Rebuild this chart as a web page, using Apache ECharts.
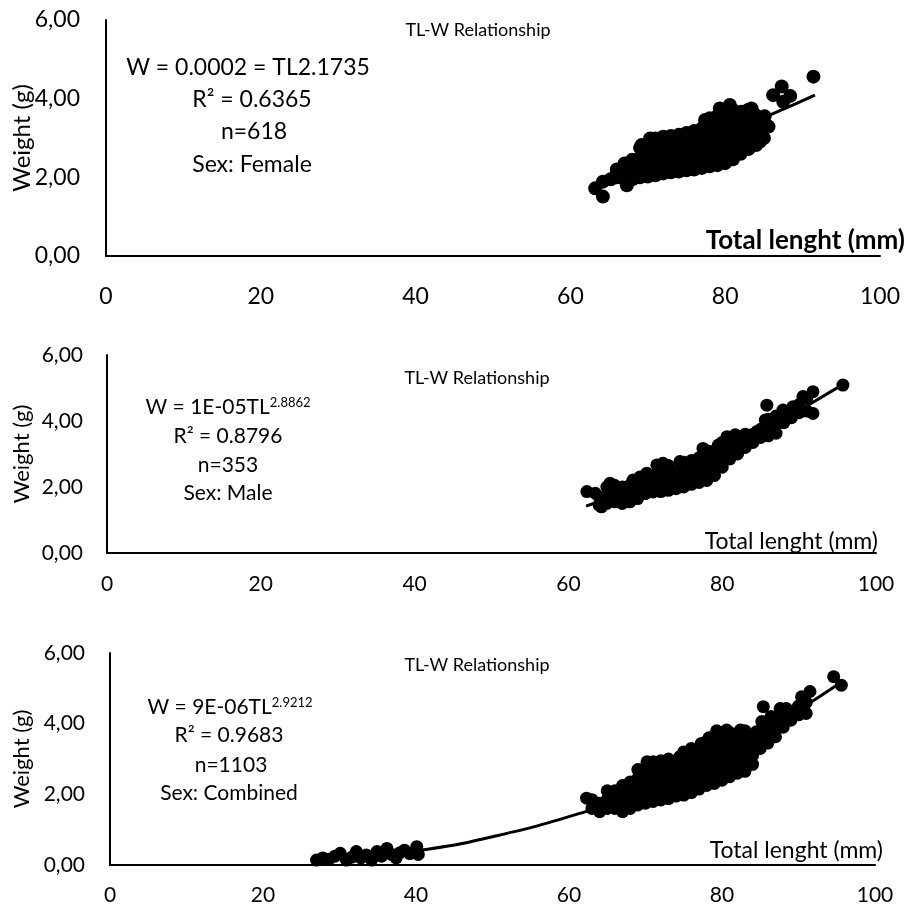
<!DOCTYPE html>
<html>
<head>
<meta charset="utf-8">
<script src="https://cdn.jsdelivr.net/npm/echarts@6/dist/echarts.min.js"></script>
<style>
html,body{margin:0;padding:0;background:#fff;}
#chart{width:909px;height:910px;}
</style>
</head>
<body>
<div id="chart"></div>
<script>
// ---- Data ----
var xTicks = [0, 20, 40, 60, 80, 100];
var yTicks = [0, 2, 4, 6];

var femalePoints = [
[63.2,1.72],[64.2,1.89],[64.2,1.51],[65.2,1.95],[65.9,2.06],[66.9,2.27],[67.3,1.80],
[66,2.0],[66,2.2],
[67,1.95],[67,2.2],[67,2.35],
[68,1.95],[68,2.2],[68,2.45],
[69,2.0],[69,2.25],[69,2.5],[69,2.75],[69.2,2.82],
[70,2.02],[70,2.27],[70,2.52],[70,2.77],[70.3,2.99],
[71,2.05],[71,2.3],[71,2.55],[71,2.8],[71,2.99],
[72,2.1],[72,2.35],[72,2.6],[72,2.85],[72,3.03],
[73,2.13],[73,2.38],[73,2.63],[73,2.88],[73,3.05],
[74,2.15],[74,2.4],[74,2.65],[74,2.9],[74,3.08],
[75,2.18],[75,2.43],[75,2.68],[75,2.93],[75,3.13],
[76,2.2],[76,2.45],[76,2.7],[76,2.95],[76,3.18],
[77,2.24],[77,2.49],[77,2.74],[77,2.99],[77,3.24],[77.4,3.46],
[78,2.28],[78,2.53],[78,2.78],[78,3.03],[78,3.28],[78,3.5],
[79,2.31],[79,2.56],[79,2.81],[79,3.06],[79,3.31],[79,3.56],[79.3,3.75],
[80,2.36],[80,2.61],[80,2.86],[80,3.11],[80,3.36],[80,3.61],[80.6,3.84],
[81,2.46],[81,2.71],[81,2.96],[81,3.21],[81,3.46],[81,3.71],
[82,2.6],[82,2.85],[82,3.1],[82,3.35],[82,3.6],[82.1,3.67],
[83,2.72],[83,2.97],[83,3.22],[83,3.47],[83,3.72],[83.4,3.75],
[84,2.82],[84,3.07],[84,3.32],[84,3.57],[84.5,2.91],
[85,3.0],[85,3.25],[85.1,3.55],[85.6,3.29],
[86.2,4.09],[87.3,4.31],[87.5,3.92],[88.4,4.07],[91.4,4.56]
];
var femaleTrend = [[63.2,1.80],[66,2.03],[70,2.35],[75,2.74],[80,3.14],[85.8,3.59],[91.6,4.09]];

var malePoints = [
[62.4,1.86],[63.5,1.81],[64.3,1.40],[65.4,2.11],
[64,1.45],[64,1.7],
[65,1.5],[65,1.75],[65,2.0],
[66,1.55],[66,1.8],[66,2.05],
[67,1.5],[67,1.75],[67,2.0],
[68,1.55],[68,1.8],[68,2.05],[68.4,2.21],
[69,1.65],[69,1.9],[69,2.15],[69.3,2.3],
[70,1.8],[70,2.05],[70,2.3],[70.2,2.42],
[71,1.85],[71,2.1],[71,2.35],[71.5,2.67],
[72,1.86],[72,2.1],[72,2.35],[72,2.6],[72.3,2.72],
[73,1.9],[73,2.15],[73,2.4],[73,2.65],
[74,1.95],[74,2.2],[74,2.45],[74.5,2.77],
[75,2.0],[75,2.25],[75,2.5],[75,2.75],
[76,2.08],[76,2.33],[76,2.58],[76,2.8],
[77,2.14],[77,2.39],[77,2.64],[77,2.89],[77.5,3.17],
[78,2.2],[78,2.45],[78,2.7],[78,2.95],[78,3.1],
[79,2.35],[79,2.6],[79,2.85],[79,3.1],[79.5,3.27],
[80,2.6],[80,2.85],[80,3.1],[80,3.35],[80.6,3.52],
[81,2.85],[81,3.1],[81,3.35],[81.7,3.58],
[82,3.0],[82,3.25],[82,3.5],
[83,3.2],[83,3.45],[83,3.6],
[84,3.35],[84,3.6],[84.5,3.68],
[85,3.5],[85,3.75],[85.6,4.03],[85.8,4.48],
[86,3.55],[86,3.8],[86,4.05],
[87,3.63],[87,3.9],[87,4.15],
[88,3.95],[88,4.2],[87.9,4.33],
[89,4.1],[89,4.35],[89.2,4.43],
[90,4.25],[90,4.5],[90.5,4.74],
[91,4.3],[91,4.7],[91.8,4.89],[91.8,4.23],
[95.7,5.09]
];
var maleTrend = [[62.3,1.42],[66,1.72],[70,2.03],[75,2.48],[80,3.02],[85,3.62],[90,4.32],[95.5,5.08]];

var combinedPoints = [
[27.0,0.14],[27.8,0.2],[28.6,0.16],[29.4,0.25],[30.1,0.33],[30.9,0.14],[31.6,0.22],[32.2,0.38],
[32.8,0.2],[33.5,0.28],[34.2,0.14],[34.9,0.38],[35.5,0.25],[36.2,0.47],[36.8,0.3],[37.4,0.2],
[37.9,0.35],[38.5,0.42],[39.2,0.32],[40.1,0.52],[40.3,0.3],
[62.3,1.89],
[63,1.6],[63,1.85],
[64,1.51],[64,1.75],
[65,1.6],[65,1.85],[65,2.1],
[66,1.6],[66,1.85],[66,2.1],
[67,1.51],[67,1.76],[67,2.01],[67,2.25],
[68,1.6],[68,1.85],[68,2.1],[68,2.35],
[69,1.7],[69,1.95],[69,2.2],[69,2.45],[69,2.7],
[70,1.75],[70,2.0],[70,2.25],[70,2.5],[70,2.75],[70.2,2.92],
[71,1.8],[71,2.05],[71,2.3],[71,2.55],[71,2.8],[71,2.92],
[72,1.84],[72,2.09],[72,2.34],[72,2.59],[72,2.84],[72,2.95],
[73,1.88],[73,2.13],[73,2.38],[73,2.63],[73,2.88],[73,3.0],
[74,1.95],[74,2.2],[74,2.45],[74,2.7],[74,2.95],[74.5,3.07],
[75,1.98],[75,2.23],[75,2.48],[75,2.73],[75,2.98],[75,3.2],
[76,2.05],[76,2.3],[76,2.55],[76,2.8],[76,3.05],[76,3.3],
[77,2.15],[77,2.4],[77,2.65],[77,2.9],[77,3.15],[77.3,3.44],
[78,2.25],[78,2.5],[78,2.75],[78,3.0],[78,3.25],[78,3.5],[78.3,3.6],
[79,2.31],[79,2.56],[79,2.81],[79,3.06],[79,3.31],[79,3.56],[79.3,3.8],
[80,2.4],[80,2.65],[80,2.9],[80,3.15],[80,3.4],[80,3.65],[80.6,3.82],
[81,2.5],[81,2.75],[81,3.0],[81,3.25],[81,3.5],[81,3.75],
[82,2.6],[82,2.85],[82,3.1],[82,3.35],[82,3.6],[82.4,3.82],
[83,2.65],[83,2.9],[83,3.15],[83,3.4],[83,3.65],[83,3.8],
[84,2.85],[84,3.1],[84,3.35],[84,3.6],[84.5,3.77],
[85,3.3],[85,3.55],[85,3.8],[85.2,4.06],[85.4,4.48],
[86,3.45],[86,3.7],[86,3.95],[86.4,4.2],
[87,3.63],[87,3.88],[87,4.13],[87.6,4.43],
[88,3.9],[88,4.15],[88.4,4.43],
[89,4.1],[89,4.35],
[90,4.25],[90,4.5],[90.4,4.76],
[91,4.29],[91,4.6],[91.5,4.91],
[94.6,5.33],[95.6,5.09]
];
var combinedTrend = [[27,0.13],[33,0.24],[41,0.43],[50,0.80],[61.4,1.46],[70,2.12],[80,3.12],[88,4.12],[95,5.09]];

var panelTitle = 'TL-W Relationship';
var xName = 'Total lenght (mm)';
var yName = 'Weight (g)';
var femaleText = ['W = 0.0002 = TL2.1735', 'R² = 0.6365', 'n=618', 'Sex: Female'];
var maleText = ['W = 1E-05TL{sup|2.8862}', 'R² = 0.8796', 'n=353', 'Sex: Male'];
var combinedText = ['W = 9E-06TL{sup|2.9212}', 'R² = 0.9683', 'n=1103', 'Sex: Combined'];

// ---- Chart ----
var FONT = 'Lato';
var chart = echarts.init(document.getElementById('chart'), null, {renderer: 'canvas'});

var grids = [
  {left: 106, top: 20, width: 774, height: 236},
  {left: 107, top: 355, width: 769, height: 198},
  {left: 110, top: 653, width: 765, height: 212}
];
var tickSize = [23, 21, 21];
var xMargin = [29, 21, 20];
var yMargin = [26, 24, 25];

function xAxisFor(i) {
  return {
    type: 'value', gridIndex: i, min: xTicks[0], max: xTicks[xTicks.length - 1], interval: xTicks[1] - xTicks[0],
    axisLine: {show: true, onZero: false, lineStyle: {color: '#000', width: 2}},
    axisTick: {show: false}, splitLine: {show: false},
    axisLabel: {fontFamily: FONT, fontSize: tickSize[i], color: '#000', margin: xMargin[i]}
  };
}
function yAxisFor(i) {
  return {
    type: 'value', gridIndex: i, min: yTicks[0], max: yTicks[yTicks.length - 1], interval: yTicks[1] - yTicks[0],
    axisLine: {show: true, onZero: false, lineStyle: {color: '#000', width: 2}},
    axisTick: {show: false}, splitLine: {show: false},
    axisLabel: {fontFamily: FONT, fontSize: tickSize[i], color: '#000', margin: yMargin[i],
      formatter: function (v) { return v.toFixed(2).replace('.', ','); }}
  };
}
function scatter(i, data, size) {
  return {type: 'scatter', xAxisIndex: i, yAxisIndex: i, data: data, symbol: 'circle', symbolSize: size,
    itemStyle: {color: '#000', opacity: 1}, clip: false, silent: true, z: 2};
}
function trend(i, data, w) {
  return {type: 'line', xAxisIndex: i, yAxisIndex: i, data: data, smooth: true, showSymbol: false, symbol: 'none',
    lineStyle: {color: '#000', width: w}, clip: false, silent: true, z: 3};
}

function txt(text, x, y, size, opts) {
  opts = opts || {};
  return {
    type: 'text', x: x, y: y, rotation: opts.rotation || 0, silent: true, z: 10,
    style: {
      text: text, fill: '#000', fontFamily: FONT, fontSize: size, fontWeight: opts.bold ? 'bold' : 'normal',
      align: opts.align || 'center', verticalAlign: 'middle',
      rich: {sup: {fontFamily: FONT, fontSize: Math.round(size * 0.62), verticalAlign: 'top', fill: '#000'}}
    }
  };
}

var graphics = [
  // panel 1
  txt(panelTitle, 478, 30, 18),
  txt(femaleText[0], 248, 68, 23),
  txt(femaleText[1], 252, 100, 23),
  txt(femaleText[2], 254, 132, 23),
  txt(femaleText[3], 252, 165, 23),
  txt(xName, 905, 241, 26, {bold: true, align: 'right'}),
  txt(yName, 22, 138, 24, {rotation: Math.PI / 2}),
  // panel 2
  txt(panelTitle, 477, 378, 18),
  txt(maleText[0], 228, 407, 21),
  txt(maleText[1], 228, 436, 21),
  txt(maleText[2], 228, 465, 21),
  txt(maleText[3], 228, 493, 21),
  txt(xName, 878, 542, 23, {align: 'right'}),
  txt(yName, 22, 454, 22, {rotation: Math.PI / 2}),
  // panel 3
  txt(panelTitle, 477, 665, 18),
  txt(combinedText[0], 230, 707, 21),
  txt(combinedText[1], 229, 735, 21),
  txt(combinedText[2], 231, 765, 21),
  txt(combinedText[3], 229, 793, 21),
  txt(xName, 883, 851, 23, {align: 'right'}),
  txt(yName, 22, 759, 22, {rotation: Math.PI / 2})
];

chart.setOption({
  animation: false,
  backgroundColor: '#fff',
  grid: grids,
  xAxis: [xAxisFor(0), xAxisFor(1), xAxisFor(2)],
  yAxis: [yAxisFor(0), yAxisFor(1), yAxisFor(2)],
  series: [
    scatter(0, femalePoints, 14), trend(0, femaleTrend, 3),
    scatter(1, malePoints, 13), trend(1, maleTrend, 3),
    scatter(2, combinedPoints, 13), trend(2, combinedTrend, 3)
  ],
  graphic: graphics
});
</script>
</body>
</html>
